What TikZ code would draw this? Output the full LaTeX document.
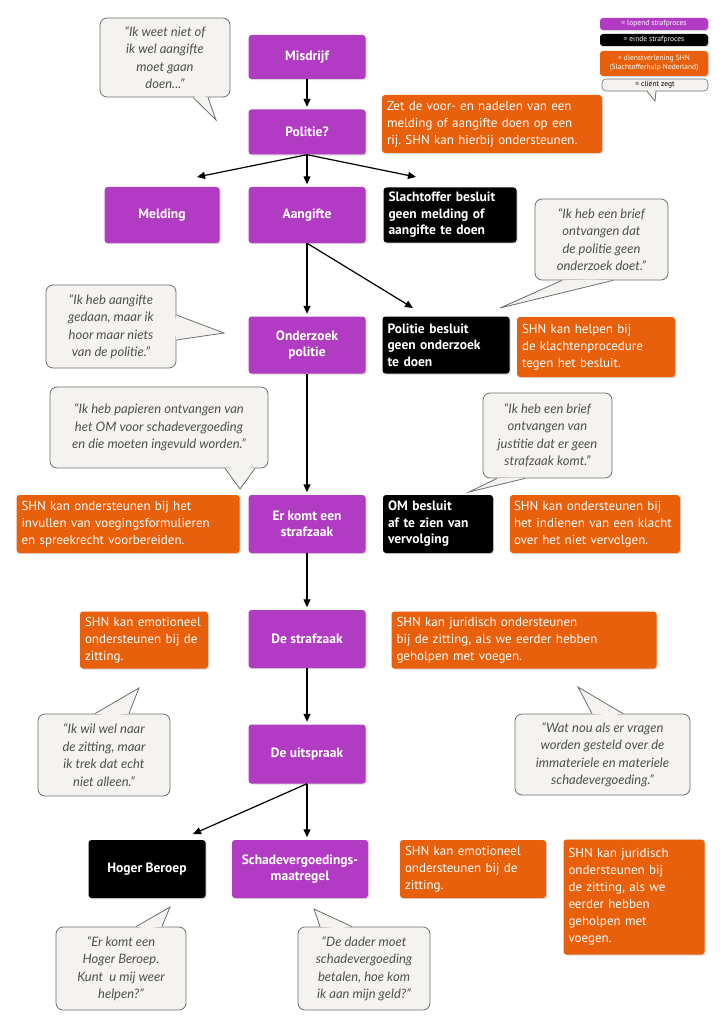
\documentclass[tikz,border=0pt]{standalone}
\usepackage{fontspec}
\setmainfont{PT Sans}
\newfontfamily\quotefont{Lato}
\usetikzlibrary{arrows.meta}
\usetikzlibrary{shadows}
\usetikzlibrary{calc}
\frenchspacing

\definecolor{lopend}{HTML}{B23BC4}
\definecolor{shn}{HTML}{E8600C}
\definecolor{quotefill}{HTML}{F5F3F0}
\definecolor{quoteline}{HTML}{6E6E6E}
\definecolor{quotetext}{HTML}{505050}

\tikzset{
  box/.style={rounded corners=3pt, inner xsep=5pt, inner ysep=0pt, text=white,
    drop shadow={shadow xshift=1.2pt, shadow yshift=-1.2pt, opacity=.3}},
  stage/.style={box, fill=lopend, font=\fontsize{13.5}{16}\selectfont\bfseries,
    align=center, minimum width=117pt, minimum height=57pt},
  endbox/.style={box, fill=black, font=\fontsize{13.5}{16.5}\selectfont\bfseries, align=left},
  shnbox/.style={box, fill=shn, font=\fontsize{13}{17}\selectfont, align=left},
  qbubble/.style={draw=quoteline, fill=quotefill, line width=.8pt, rounded corners=7pt,
    text=quotetext, font=\quotefont\itshape\fontsize{13}{17.5}\selectfont, align=center},
  legendbox/.style={box, inner xsep=2pt, font=\fontsize{7.5}{9}\selectfont, align=center,
    minimum width=108pt, minimum height=12pt},
  flow/.style={-{Triangle[length=8pt,width=7pt]}, line width=1.2pt},
}

% tail of a speech bubble: base points #1, #2 on the border, tip #3
\newcommand{\quotetail}[3]{%
  \coordinate (tailmid) at ($(#1)!.5!(#2)$);
  \fill[quotefill] (#1) -- (#3) -- (#2) -- ($(tailmid)!-3pt!(#3)$) -- cycle;
  \draw[quoteline, line width=.8pt] (#1) -- (#3) -- (#2);
}

\begin{document}
\begin{tikzpicture}[x=1pt, y=-1pt]
 \useasboundingbox (0,0) rectangle (726,1024);
 \fill[white] (0,0) rectangle (726,1024);

 % legend
 \node[legendbox, fill=lopend] (leglopend) at (654,24) {= lopend strafproces};
 \node[legendbox, fill=black] (legeinde) at (654,40) {= einde strafproces};
 \node[legendbox, fill=shn, minimum height=25pt] (legshn) at (654,63.5) {= dienstverlening SHN\\(Slachtofferhulp Nederland)};
 \node[qbubble, rounded corners=4pt, line width=.6pt, text=black, font=\fontsize{7.5}{9}\selectfont,
   minimum width=106pt, minimum height=12pt, inner sep=0pt] (legquote) at (655,85) {= cliënt zegt};
 \coordinate (legqa) at (647,0 |- legquote.south);
 \coordinate (legqb) at (656,0 |- legquote.south);
 \coordinate (legqtip) at (655,101);
 \quotetail{legqa}{legqb}{legqtip}

 % process
 \node[stage, minimum height=44pt] (misdrijf) at (307,57) {Misdrijf};
 \node[stage, minimum height=45pt] (politie) at (307,132) {Politie?};
 \node[stage, minimum width=115pt, minimum height=56pt] (melding) at (162,215) {Melding};
 \node[stage, minimum height=56pt] (aangifte) at (307,215) {Aangifte};
 \node[endbox, text width=123pt, minimum height=55pt] (geenaangifte) at (450,215) {Slachtoffer besluit\\geen melding of\\aangifte te doen};
 \node[shnbox, text width=210pt, minimum height=58pt] (afweging) at (492,124) {Zet de voor- en nadelen van een\\melding of aangifte doen op een\\rij. SHN kan hierbij ondersteunen.};

 \node[stage] (onderzoek) at (307,345) {Onderzoek\\politie};
 \node[endbox, text width=117pt, minimum height=57pt] (geenonderzoek) at (446,345) {Politie besluit\\geen onderzoek\\te doen};
 \node[shnbox, text width=148pt, minimum height=60pt] (klacht) at (596,347) {SHN kan helpen bij\\de klachtenprocedure\\tegen het besluit.};

 \node[stage, minimum height=58pt] (strafzaak) at (307,524) {Er komt een\\strafzaak};
 \node[endbox, text width=100pt, minimum height=58pt] (sepot) at (438,524) {OM besluit\\af te zien van\\vervolging};
 \node[shnbox, inner xsep=4pt, text width=162pt, minimum height=58pt] (indienen) at (595,524) {SHN kan ondersteunen bij\\het indienen van een klacht\\over het niet vervolgen.};
 \node[shnbox, text width=213pt, minimum height=58pt] (invullen) at (128,524) {SHN kan ondersteunen bij het\\invullen van voegingsformulieren\\en spreekrecht voorbereiden.};

 \node[stage, minimum height=58pt] (zitting) at (307,639) {De strafzaak};
 \node[shnbox, text width=118pt, minimum height=57pt] (emotie) at (144,640) {SHN kan emotioneel\\ondersteunen bij de\\zitting.};
 \node[shnbox, text width=255pt, minimum height=57pt] (juridisch) at (524,640) {SHN kan juridisch ondersteunen\\bij de zitting, als we eerder hebben\\geholpen met voegen.};

 \node[stage, minimum height=59pt] (uitspraak) at (307,754) {De uitspraak};
 \node[endbox, align=center, minimum width=117pt, minimum height=58pt] (beroep) at (147,869) {Hoger Beroep};
 \node[stage, minimum width=136pt, minimum height=58pt] (maatregel) at (300,869) {Schadevergoedings-\\maatregel};
 \node[shnbox, text width=136pt, minimum height=58pt] (emotie2) at (473,869) {SHN kan emotioneel\\ondersteunen bij de\\zitting.};
 \node[shnbox, text width=131pt, minimum height=115pt] (juridisch2) at (634,897) {SHN kan juridisch\\ondersteunen bij\\de zitting, als we\\eerder hebben\\geholpen met\\voegen.};

 % connectors
 \coordinate (meldingtip) at (197,177);
 \coordinate (slachtoffertip) at (416,177);
 \coordinate (geenonderzoektip) at (413,308);
 \coordinate (beroeptip) at (193,834);
 \draw[flow, shorten >=2.5pt] (misdrijf) -- (politie);
 \draw[flow] (politie.south) -- (meldingtip);
 \draw[flow, shorten >=2.5pt] (politie) -- (aangifte);
 \draw[flow] (politie.south) -- (slachtoffertip);
 \draw[flow, shorten >=2.5pt] (aangifte) -- (onderzoek);
 \draw[flow] (aangifte.south) -- (geenonderzoektip);
 \draw[flow, shorten >=2.5pt] (onderzoek) -- (strafzaak);
 \draw[flow, shorten >=2.5pt] (strafzaak) -- (zitting);
 \draw[flow, shorten >=2.5pt] (zitting) -- (uitspraak);
 \draw[flow] (uitspraak.south) -- (beroeptip);
 \draw[flow, shorten >=2.5pt] (uitspraak.south) -- (uitspraak.south |- maatregel.north);

 % client quotes
 \node[qbubble, minimum width=130pt, minimum height=79pt] (q1) at (165,57.5) {“Ik weet niet of\\ik wel aangifte\\moet gaan\\doen...”};
 \coordinate (q1a) at (193,0 |- q1.south);
 \coordinate (q1b) at (208,0 |- q1.south);
 \coordinate (q1tip) at (216,120);
 \quotetail{q1a}{q1b}{q1tip}

 \node[qbubble, minimum width=133pt, minimum height=81pt] (q2) at (601.5,239.5) {“Ik heb een brief\\ontvangen dat\\de politie geen\\onderzoek doet.”};
 \coordinate (q2a) at (562,0 |- q2.south);
 \coordinate (q2b) at (613,0 |- q2.south);
 \coordinate (q2tip) at (500,308);
 \quotetail{q2a}{q2b}{q2tip}

 \node[qbubble, minimum width=130pt, minimum height=83pt] (q3) at (111,326.5) {“Ik heb aangifte\\gedaan, maar ik\\hoor maar niets\\van de politie.”};
 \coordinate (q3a) at (q3.east |- 0,315);
 \coordinate (q3b) at (q3.east |- 0,340);
 \coordinate (q3tip) at (224,333);
 \quotetail{q3a}{q3b}{q3tip}

 \node[qbubble, minimum width=218pt, minimum height=81pt] (q4) at (159,427.5) {“Ik heb papieren ontvangen van\\het OM voor schadevergoeding\\en die moeten ingevuld worden.”};
 \coordinate (q4a) at (225,0 |- q4.south);
 \coordinate (q4b) at (255,0 |- q4.south);
 \coordinate (q4tip) at (240,489);
 \quotetail{q4a}{q4b}{q4tip}

 \node[qbubble, minimum width=129pt, minimum height=85pt] (q5) at (547.5,435.5) {“Ik heb een brief\\ontvangen van\\justitie dat er geen\\strafzaak komt.”};
 \coordinate (q5a) at (497,0 |- q5.south);
 \coordinate (q5b) at (525,0 |- q5.south);
 \coordinate (q5tip) at (469,492);
 \quotetail{q5a}{q5b}{q5tip}

 \node[qbubble, minimum width=132pt, minimum height=82pt] (q6) at (104,755) {“Ik wil wel naar\\de zitting, maar\\ik trek dat echt\\niet alleen.”};
 \coordinate (q6a) at (95,0 |- q6.north);
 \coordinate (q6b) at (129,0 |- q6.north);
 \coordinate (q6tip) at (139,688);
 \quotetail{q6a}{q6b}{q6tip}

 \node[qbubble, minimum width=175pt, minimum height=81pt] (q7) at (602.5,754.5) {“Wat nou als er vragen\\worden gesteld over de\\immateriele en materiele\\schadevergoeding.”};
 \coordinate (q7a) at (592,0 |- q7.north);
 \coordinate (q7b) at (623,0 |- q7.north);
 \coordinate (q7tip) at (578,687);
 \quotetail{q7a}{q7b}{q7tip}

 \node[qbubble, minimum width=130pt, minimum height=83pt] (q8) at (121,968.5) {“Er komt een\\Hoger Beroep.\\Kunt~ u mij weer\\helpen?”};
 \coordinate (q8a) at (136,0 |- q8.north);
 \coordinate (q8b) at (162,0 |- q8.north);
 \coordinate (q8tip) at (170,907);
 \quotetail{q8a}{q8b}{q8tip}

 \node[qbubble, minimum width=132pt, minimum height=83pt] (q9) at (364,968.5) {“De dader moet\\schadevergoeding\\betalen, hoe kom\\ik aan mijn geld?”};
 \coordinate (q9a) at (320,0 |- q9.north);
 \coordinate (q9b) at (352,0 |- q9.north);
 \coordinate (q9tip) at (314,909);
 \quotetail{q9a}{q9b}{q9tip}
\end{tikzpicture}
\end{document}
